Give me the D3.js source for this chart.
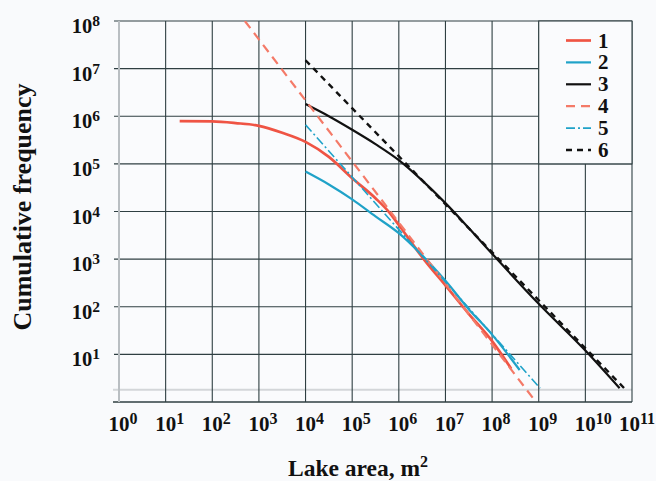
<!DOCTYPE html>
<html>
<head>
<meta charset="utf-8">
<script src="https://cdn.jsdelivr.net/npm/d3@7"></script>
<style>
  body { margin: 0; background: #f9fafc; }
  text { font-family: "Liberation Serif", "Times New Roman", serif; font-weight: bold; fill: #111; }
</style>
</head>
<body>
<svg id="chart" width="656" height="481"></svg>
<script>
// decades shown on the axes
var xDecades = [0, 1, 2, 3, 4, 5, 6, 7, 8, 9, 10, 11];
var yDecades = [1, 2, 3, 4, 5, 6, 7, 8];

// 1 - red solid
var area1 = [20, 1e2, 316, 1e3, 3.16e3, 1e4, 3.16e4, 1e5, 3.16e5, 6.3e5, 1e6, 3.55e6, 1e7, 3.16e7, 1e8, 2.57e8];
var freq1 = [7.9e5, 7.8e5, 7.2e5, 6.3e5, 4.5e5, 2.9e5, 1.4e5, 5.0e4, 1.9e4, 9.5e3, 5.2e3, 9.5e2, 2.8e2, 71, 19, 5.0];
// 2 - blue solid
var area2 = [1e4, 3.16e4, 1e5, 3.16e5, 1e6, 3.16e6, 1e7, 3.16e7, 1e8, 3.9e8];
var freq2 = [6.9e4, 3.7e4, 1.8e4, 7.9e3, 3.5e3, 1.2e3, 3.5e2, 89, 26, 4.7];
// 3 - black solid
var area3 = [1e4, 3.16e4, 1e5, 3.16e5, 1e6, 3.16e6, 1e7, 3.16e7, 1e8, 1e9, 1e10, 5.4e10];
var freq3 = [1.8e6, 1.0e6, 5.2e5, 2.6e5, 1.2e5, 4.5e4, 1.5e4, 4.5e3, 1.3e3, 115, 12, 1.95];
// 4 - red dashed fit
var area4 = [5.0e2, 8.1e8];
var freq4 = [1e8, 1.1];
// 5 - blue dash-dot fit
var area5 = [1e4, 1.07e9];
var freq5 = [6.6e5, 1.95];
// 6 - black dashed fit
var area6 = [1e4, 6.8e10];
var freq6 = [1.5e7, 1.95];

var floorLine = 1.8;
var legendLabels = ["1", "2", "3", "4", "5", "6"];

var svg = d3.select("#chart"),
    plotLeft = 119, plotRight = 632, plotTop = 21, plotBottom = 402,
    gridColor = "#2f3f42",
    bg = "#fafbfd";

var x = d3.scaleLog().domain([1, 1e11]).range([plotLeft, plotRight]);
var y = d3.scaleLog().domain([1, 1e8]).range([plotBottom, plotTop]);

// plot background
svg.append("rect").attr("x", plotLeft).attr("y", plotTop)
    .attr("width", plotRight - plotLeft).attr("height", plotBottom - plotTop)
    .attr("fill", bg);

// light line near the bottom
svg.append("line")
    .attr("x1", plotLeft - 6).attr("x2", plotRight)
    .attr("y1", y(floorLine)).attr("y2", y(floorLine))
    .attr("stroke", "#d3d6d9").attr("stroke-width", 2);

// vertical grid
svg.append("g").selectAll("line")
    .data(xDecades.slice(1, -1))
    .enter().append("line")
    .attr("x1", function (d) { return x(Math.pow(10, d)); })
    .attr("x2", function (d) { return x(Math.pow(10, d)); })
    .attr("y1", plotTop).attr("y2", plotBottom)
    .attr("stroke", gridColor).attr("stroke-width", 1.1);

// horizontal grid (with small outer tick on the left)
svg.append("g").selectAll("line")
    .data(yDecades)
    .enter().append("line")
    .attr("x1", plotLeft - 5).attr("x2", plotRight)
    .attr("y1", function (d) { return y(Math.pow(10, d)); })
    .attr("y2", function (d) { return y(Math.pow(10, d)); })
    .attr("stroke", gridColor).attr("stroke-width", 1.1);

// frame
svg.append("line").attr("x1", plotLeft - 6).attr("x2", plotRight).attr("y1", plotBottom).attr("y2", plotBottom)
    .attr("stroke", gridColor).attr("stroke-width", 1.4);
svg.append("line").attr("x1", plotRight).attr("x2", plotRight).attr("y1", plotTop).attr("y2", plotBottom)
    .attr("stroke", gridColor).attr("stroke-width", 1.1);
svg.append("line").attr("x1", plotLeft).attr("x2", plotLeft).attr("y1", plotTop).attr("y2", plotBottom)
    .attr("stroke", "#b9bec2").attr("stroke-width", 2);

// legend box, covers the grid in the upper right
svg.append("rect")
    .attr("x", x(1e9)).attr("y", plotTop)
    .attr("width", plotRight - x(1e9)).attr("height", y(1e5) - plotTop)
    .attr("fill", bg).attr("stroke", gridColor).attr("stroke-width", 1.1);

// tick labels
var yLab = svg.append("g").selectAll("text")
    .data(yDecades)
    .enter().append("text")
    .attr("x", 100)
    .attr("y", function (d) { return y(Math.pow(10, d)) + 12; })
    .attr("text-anchor", "end")
    .style("font-size", "20.5px");
yLab.append("tspan").text("10");
yLab.append("tspan").attr("dy", -7).style("font-size", "15.5px").text(function (d) { return d; });

var xLab = svg.append("g").selectAll("text")
    .data(xDecades)
    .enter().append("text")
    // last label would run off the right edge, nudge it in a bit
    .attr("x", function (d) { return x(Math.pow(10, d)) - (d === 11 ? 13 : 10.5); })
    .attr("y", 431)
    .style("font-size", "21px");
xLab.append("tspan").text("10");
xLab.append("tspan").attr("dy", -7.5).style("font-size", "16px").text(function (d) { return d; });

// axis titles
svg.append("text")
    .attr("transform", "translate(31,207) rotate(-90)")
    .attr("text-anchor", "middle")
    .style("font-size", "26px")
    .text("Cumulative frequency");

var xt = svg.append("text")
    .attr("x", 358).attr("y", 476)
    .attr("text-anchor", "middle")
    .style("font-size", "23.5px");
xt.append("tspan").text("Lake area, m");
xt.append("tspan").attr("dy", -9).style("font-size", "16px").text("2");

// curves
var series = [
    { a: area1, f: freq1, color: "#ef5444", width: 2.7, dash: null },
    { a: area2, f: freq2, color: "#1fa2c8", width: 2.2, dash: null },
    { a: area3, f: freq3, color: "#111111", width: 2.2, dash: null },
    { a: area4, f: freq4, color: "#f47a68", width: 2.2, dash: "9,6" },
    { a: area5, f: freq5, color: "#1fa2c8", width: 1.6, dash: "9,3,2,3" },
    { a: area6, f: freq6, color: "#111111", width: 2.4, dash: "6,5" }
];

var line = d3.line()
    .x(function (d) { return x(d[0]); })
    .y(function (d) { return y(d[1]); })
    .curve(d3.curveMonotoneX);

svg.append("clipPath").attr("id", "clip")
    .append("rect").attr("x", plotLeft).attr("y", plotTop)
    .attr("width", plotRight - plotLeft).attr("height", plotBottom - plotTop);

svg.append("g").attr("clip-path", "url(#clip)")
    .selectAll("path")
    .data(series)
    .enter().append("path")
    .attr("d", function (s) { return line(d3.zip(s.a, s.f)); })
    .attr("fill", "none")
    .attr("stroke", function (s) { return s.color; })
    .attr("stroke-width", function (s) { return s.width; })
    .attr("stroke-dasharray", function (s) { return s.dash; });

// legend
var leg = svg.append("g").selectAll("g")
    .data(series)
    .enter().append("g")
    .attr("transform", function (s, i) { return "translate(0," + (40.5 + i * 21.9) + ")"; });
leg.append("line")
    .attr("x1", 566).attr("x2", 591)
    .attr("stroke", function (s) { return s.color; })
    .attr("stroke-width", function (s) { return s.width; })
    .attr("stroke-dasharray", function (s) { return s.dash; });
leg.append("text")
    .attr("x", 598).attr("y", 7)
    .style("font-size", "21px")
    .text(function (s, i) { return legendLabels[i]; });
</script>
</body>
</html>
